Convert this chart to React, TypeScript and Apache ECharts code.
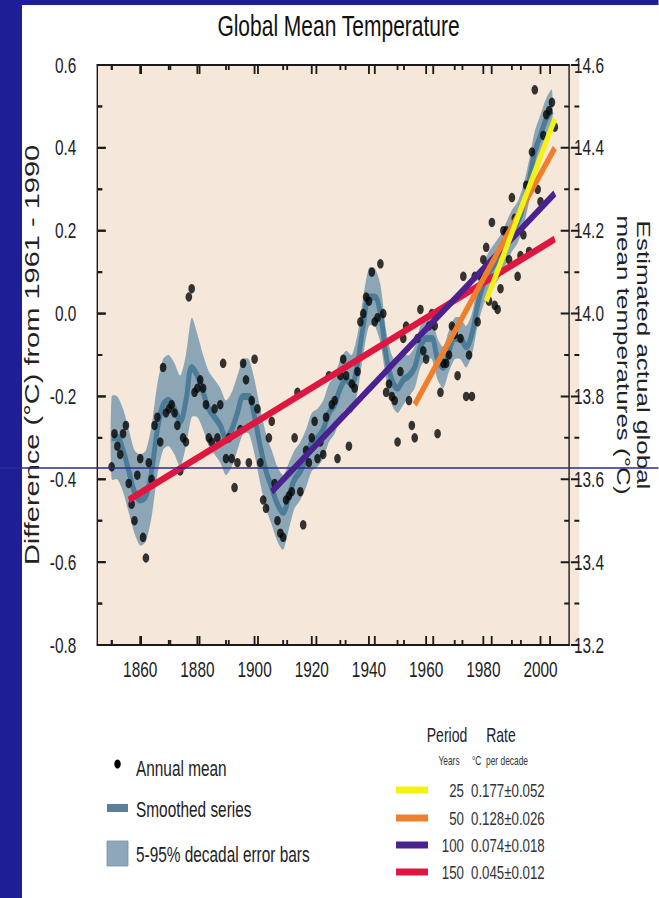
import React, { useEffect, useRef } from "react";
import * as echarts from "echarts";

// Drawn wide, then squeezed horizontally by SX so glyphs and dots get the narrow look.
const SX = 0.7;
const W = 941;
const H = 898;
const FONT = "'Liberation Sans', Arial, sans-serif";

// Annual global mean temperature anomaly (°C, relative to 1961-1990), 1850-2005
const firstYear = 1850;
const annualMean = [
  -0.37, -0.29, -0.32, -0.34, -0.29, -0.27, -0.41, -0.46, -0.5, -0.39,
  -0.35, -0.54, -0.59, -0.36, -0.4, -0.27, -0.25, -0.31, -0.13, -0.24,
  -0.23, -0.22, -0.24, -0.27, -0.38, -0.3, -0.31, 0.04, 0.06, -0.19,
  -0.18, -0.16, -0.18, -0.22, -0.3, -0.31, -0.23, -0.3, -0.22, -0.12,
  -0.35, -0.3, -0.35, -0.42, -0.36, -0.28, -0.12, -0.16, -0.36, -0.21,
  -0.11, -0.23, -0.36, -0.45, -0.47, -0.3, -0.26, -0.41, -0.5, -0.53,
  -0.54, -0.45, -0.44, -0.43, -0.3, -0.19, -0.43, -0.51, -0.33, -0.36,
  -0.3, -0.26, -0.35, -0.31, -0.34, -0.25, -0.15, -0.22, -0.21, -0.35,
  -0.15, -0.11, -0.15, -0.32, -0.17, -0.18, -0.14, -0.02, 0.0, 0.04,
  0.03, 0.1, -0.02, -0.01, 0.12, 0.0, -0.19, -0.17, -0.2, -0.21,
  -0.31, -0.14, -0.06, -0.03, -0.21, -0.27, -0.3, -0.06, 0.01, -0.09,
  -0.11, -0.03, 0.0, -0.03, -0.29, -0.19, -0.12, -0.12, -0.1, -0.03,
  -0.05, -0.15, -0.06, 0.09, -0.2, -0.1, -0.2, 0.09, -0.02, 0.09,
  0.13, 0.16, 0.03, 0.22, 0.02, 0.01, 0.06, 0.2, 0.2, 0.13,
  0.28, 0.23, 0.09, 0.14, 0.19, 0.31, 0.15, 0.39, 0.54, 0.3,
  0.27, 0.43, 0.48, 0.49, 0.51, 0.45,
];

// Decadal smoothed series and the half-width of its 5-95% band
const smoothYears = [
  1850, 1852, 1854, 1856, 1858, 1860, 1862, 1864, 1866, 1868, 1870, 1872, 1874,
  1876, 1878, 1880, 1882, 1884, 1886, 1888, 1890, 1892, 1894, 1896, 1898, 1900,
  1902, 1904, 1906, 1908, 1910, 1912, 1914, 1916, 1918, 1920, 1922, 1924, 1926,
  1928, 1930, 1932, 1934, 1936, 1938, 1940, 1942, 1944, 1946, 1948, 1950, 1952,
  1954, 1956, 1958, 1960, 1962, 1964, 1966, 1968, 1970, 1972, 1974, 1976, 1978,
  1980, 1982, 1984, 1986, 1988, 1990, 1992, 1994, 1996, 1998, 2000, 2002, 2004,
];
const smoothMean = [
  -0.3, -0.3, -0.33, -0.38, -0.43, -0.45, -0.44, -0.38, -0.28, -0.22, -0.21, -0.23, -0.26,
  -0.21, -0.13, -0.15, -0.19, -0.23, -0.25, -0.27, -0.3, -0.28, -0.24, -0.2, -0.2, -0.25,
  -0.32, -0.38, -0.42, -0.46, -0.48, -0.44, -0.4, -0.38, -0.35, -0.31, -0.3, -0.28, -0.24,
  -0.22, -0.18, -0.16, -0.17, -0.12, -0.03, 0.04, 0.04, 0.0, -0.1, -0.16, -0.18, -0.16,
  -0.15, -0.13, -0.08, -0.06, -0.06, -0.11, -0.13, -0.09, -0.06, -0.06, -0.08, -0.05, 0.02,
  0.07, 0.1, 0.12, 0.14, 0.17, 0.2, 0.22, 0.26, 0.32, 0.39, 0.43, 0.47, 0.49,
];
const bandHalfWidth = [
  0.1, 0.1, 0.1, 0.1, 0.1, 0.11, 0.11, 0.11, 0.11, 0.11, 0.11, 0.11, 0.11,
  0.11, 0.12, 0.1, 0.09, 0.09, 0.09, 0.09, 0.09, 0.09, 0.09, 0.09, 0.09, 0.09,
  0.09, 0.09, 0.09, 0.09, 0.09, 0.08, 0.07, 0.07, 0.07, 0.07, 0.07, 0.07, 0.07,
  0.07, 0.07, 0.07, 0.07, 0.07, 0.07, 0.07, 0.07, 0.07, 0.06, 0.06, 0.06, 0.06,
  0.05, 0.05, 0.05, 0.05, 0.05, 0.05, 0.05, 0.05, 0.05, 0.05, 0.05, 0.05, 0.05,
  0.05, 0.05, 0.05, 0.05, 0.05, 0.05, 0.05, 0.05, 0.05, 0.05, 0.05, 0.05, 0.05,
];

// Linear trends ending in 2005
const trendPeriods = ["25", "50", "100", "150"];
const trendRates = ["0.177±0.052", "0.128±0.026", "0.074±0.018", "0.045±0.012"];
const trendStartYear = [1981, 1956, 1906, 1856];
const trendStartValue = [0.03, -0.22, -0.43, -0.45];
const trendEndYear = 2005;
const trendEndValue = [0.47, 0.4, 0.29, 0.18];
const trendColors = ["#f2f214", "#ef7f2c", "#4a2190", "#df1740"];

// Axis ranges and tick positions
const X_MIN = 1845;
const X_MAX = 2010;
const Y_MIN = -0.8;
const Y_MAX = 0.6;
const decadeTicks = [1850, 1860, 1870, 1880, 1890, 1900, 1910, 1920, 1930, 1940, 1950, 1960, 1970, 1980, 1990, 2000];
const labelYears = [1860, 1880, 1900, 1920, 1940, 1960, 1980, 2000];
const anomalyTicks = [-0.8, -0.7, -0.6, -0.5, -0.4, -0.3, -0.2, -0.1, 0.0, 0.1, 0.2, 0.3, 0.4, 0.5, 0.6];

const AXIS = "#1a1a1a";
const BAND = "#8da6b5";
const SMOOTH = "#4c7c98";
const NAVY = "#1e1e96";
const PLOT_BG = "#f5e7d9";

const px = (x: number) => x / SX;

const GRID = { left: px(97.3), top: 65, width: px(579.3) - px(97.3), height: 580 };

// frame position of an axis value, same linear mapping as the grid's axes
const frameX = (yr: number) => GRID.left + ((yr - X_MIN) / (X_MAX - X_MIN)) * GRID.width;
const frameY = (v: number) => GRID.top + ((Y_MAX - v) / (Y_MAX - Y_MIN)) * GRID.height;

// Inward tick marks on all four frame edges.
function tickElements(toPx: (p: number[]) => number[], idPrefix: string): any[] {
  const out: any[] = [];
  decadeTicks.forEach((yr) => {
    const len = labelYears.indexOf(yr) >= 0 ? 9 : 5;
    const b = toPx([yr, Y_MIN]);
    const t = toPx([yr, Y_MAX]);
    out.push({ id: idPrefix + "b" + yr, type: "rect", z: 60, shape: { x: b[0] - 1.3, y: b[1] - len, width: 2.6, height: len }, style: { fill: AXIS } });
    out.push({ id: idPrefix + "t" + yr, type: "rect", z: 60, shape: { x: t[0] - 1.3, y: t[1], width: 2.6, height: len }, style: { fill: AXIS } });
  });
  anomalyTicks.forEach((v, i) => {
    const len = i % 2 === 0 ? 12 : 7;
    const l = toPx([X_MIN, v]);
    const r = toPx([X_MAX, v]);
    out.push({ id: idPrefix + "l" + i, type: "rect", z: 60, shape: { x: l[0], y: l[1] - 1, width: len, height: 2 }, style: { fill: AXIS } });
    out.push({ id: idPrefix + "r" + i, type: "rect", z: 60, shape: { x: r[0] - len, y: r[1] - 1, width: len, height: 2 }, style: { fill: AXIS } });
  });
  return out;
}

function baseGraphic(): any[] {
  const legendLeftX = px(136);
  const swX = px(107);
  const swW = px(128) - px(107);
  const rateSwX = px(396);
  const rateSwW = px(428) - px(396);
  const rowY = [790, 818, 845, 872];
  const LEG = 22;

  const g: any[] = [
    // plot panel background, kept underneath everything else
    {
      id: "panel",
      type: "rect",
      shape: { x: GRID.left, y: GRID.top, width: GRID.width, height: GRID.height },
      style: { fill: PLOT_BG },
      z: -10,
      silent: true,
    },
    { id: "stripe-left", type: "rect", shape: { x: 0, y: 0, width: px(22), height: H }, style: { fill: NAVY }, z: 100 },
    { id: "stripe-top", type: "rect", shape: { x: 0, y: 0, width: W, height: 5 }, style: { fill: NAVY }, z: 100 },
    { id: "rule", type: "line", shape: { x1: 0, y1: 468, x2: W, y2: 468 }, style: { stroke: "#2b2b8c", lineWidth: 1.3 }, z: 100 },

    // left legend
    { id: "lg-dot", type: "circle", shape: { cx: px(117.5), cy: 764, r: 4.6 }, style: { fill: "#000" } },
    { id: "lg-t1", type: "text", x: legendLeftX, y: 768, style: { text: "Annual mean", fontSize: LEG, fontFamily: FONT, fill: "#222", verticalAlign: "middle" } },
    { id: "lg-sw2", type: "rect", shape: { x: swX, y: 804, width: swW, height: 8 }, style: { fill: "#5a809a" } },
    { id: "lg-t2", type: "text", x: legendLeftX, y: 809, style: { text: "Smoothed series", fontSize: LEG, fontFamily: FONT, fill: "#222", verticalAlign: "middle" } },
    { id: "lg-sw3", type: "rect", shape: { x: swX, y: 841, width: swW, height: 25 }, style: { fill: "#8ea8b9", stroke: "#7895aa", lineWidth: 1 } },
    { id: "lg-t3", type: "text", x: legendLeftX, y: 854, style: { text: "5-95% decadal error bars", fontSize: LEG, fontFamily: FONT, fill: "#222", verticalAlign: "middle" } },

    // trend legend
    { id: "tr-h1", type: "text", x: px(447), y: 735, style: { text: "Period", fontSize: 20, fontFamily: FONT, fill: "#222", align: "center", verticalAlign: "middle" } },
    { id: "tr-h2", type: "text", x: px(501), y: 735, style: { text: "Rate", fontSize: 20, fontFamily: FONT, fill: "#222", align: "center", verticalAlign: "middle" } },
    { id: "tr-h3", type: "text", x: px(449), y: 761, style: { text: "Years", fontSize: 12, fontFamily: FONT, fill: "#333", align: "center", verticalAlign: "middle" } },
    { id: "tr-h4", type: "text", x: px(500), y: 761, style: { text: "°C  per decade", fontSize: 12, fontFamily: FONT, fill: "#333", align: "center", verticalAlign: "middle" } },
  ];
  trendPeriods.forEach((p, k) => {
    g.push({ id: "tr-sw" + k, type: "rect", shape: { x: rateSwX, y: rowY[k] - 3.5, width: rateSwW, height: 7 }, style: { fill: trendColors[k] } });
    g.push({ id: "tr-p" + k, type: "text", x: px(464), y: rowY[k], style: { text: p, fontSize: 19, fontFamily: FONT, fill: "#333", align: "right", verticalAlign: "middle" } });
    g.push({ id: "tr-r" + k, type: "text", x: px(471), y: rowY[k], style: { text: trendRates[k], fontSize: 19, fontFamily: FONT, fill: "#333", align: "left", verticalAlign: "middle" } });
  });

  // frame ticks
  tickElements((p) => [frameX(p[0]), frameY(p[1])], "gt-").forEach((el) => g.push(el));
  return g;
}

function buildOption(): any {
  const scatterData = annualMean.map((v, i) => [firstYear + i, v]);
  const smoothData = smoothYears.map((y, i) => [y, smoothMean[i]]);

  const baseX = {
    type: "value",
    min: X_MIN,
    max: X_MAX,
    splitLine: { show: false },
    axisTick: { show: false },
  };
  const xAxes = [
    {
      ...baseX,
      position: "bottom",
      axisLine: { show: true, onZero: false, lineStyle: { color: AXIS, width: 2 } },
      axisLabel: {
        show: true,
        customValues: labelYears,
        margin: 13,
        fontSize: 22,
        color: "#222",
        fontFamily: FONT,
        formatter: (v: number) => String(v),
      },
    },
    {
      ...baseX,
      position: "top",
      axisLine: { show: true, onZero: false, lineStyle: { color: AXIS, width: 2 } },
      axisLabel: { show: false },
    },
  ];

  const yCommon = {
    type: "value",
    interval: 0.2,
    splitLine: { show: false },
    axisLine: { show: true, onZero: false, lineStyle: { color: AXIS, width: 2 } },
    axisTick: { show: false },
  };
  const yAxes = [
    {
      ...yCommon,
      position: "left",
      min: Y_MIN,
      max: Y_MAX,
      axisLabel: { margin: 30, fontSize: 22, color: "#222", fontFamily: FONT, formatter: (v: number) => v.toFixed(1) },
      name: "Difference (°C) from 1961 - 1990",
      nameLocation: "middle",
      nameRotate: 90,
      nameGap: 58,
      nameTextStyle: { fontSize: 29, color: "#222", fontFamily: FONT },
    },
    {
      ...yCommon,
      position: "right",
      min: 13.2,
      max: 14.6,
      axisLabel: { margin: 7, fontSize: 22, color: "#222", fontFamily: FONT, formatter: (v: number) => v.toFixed(1) },
      name: "Estimated actual global\nmean temperatures (°C)",
      nameLocation: "middle",
      nameRotate: -90,
      nameGap: 62,
      nameTextStyle: { fontSize: 26, lineHeight: 29, color: "#222", fontFamily: FONT },
    },
  ];

  const trendSeries = [3, 2, 1, 0].map((k) => ({
    type: "line",
    name: trendPeriods[k],
    xAxisIndex: 0,
    yAxisIndex: 0,
    data: [
      [trendStartYear[k], trendStartValue[k]],
      [trendEndYear, trendEndValue[k]],
    ],
    showSymbol: false,
    lineStyle: { color: trendColors[k], width: 7, cap: "butt" },
    z: 6 + (3 - k),
    silent: true,
  }));

  return {
    animation: false,
    backgroundColor: "#ffffff",
    textStyle: { fontFamily: FONT },
    title: {
      text: "Global Mean Temperature",
      left: px(335),
      top: 6,
      textAlign: "center",
      textStyle: { fontSize: 30, fontWeight: "normal", color: "#111", fontFamily: FONT },
    },
    grid: { ...GRID, show: false },
    xAxis: xAxes,
    yAxis: yAxes,
    series: [
      {
        type: "custom",
        name: "5-95% decadal error bars",
        xAxisIndex: 0,
        yAxisIndex: 0,
        data: [[smoothYears[0], smoothMean[0]]],
        z: 2,
        silent: true,
        renderItem: (_params: any, api: any) => {
          const upper = smoothYears.map((y, i) => api.coord([y, smoothMean[i] + bandHalfWidth[i]]));
          const lower = smoothYears.map((y, i) => api.coord([y, smoothMean[i] - bandHalfWidth[i]])).reverse();
          const ticks = tickElements((p) => api.coord(p), "st-").map((el) => {
            const { id, z, ...rest } = el;
            return rest;
          });
          return {
            type: "group",
            children: [
              {
                type: "polygon",
                shape: { points: upper.concat(lower), smooth: 0.25 },
                style: { fill: BAND },
              },
              ...ticks,
            ],
          };
        },
      },
      {
        type: "line",
        name: "Smoothed series",
        xAxisIndex: 0,
        yAxisIndex: 0,
        data: smoothData,
        smooth: 0.35,
        showSymbol: false,
        lineStyle: { color: SMOOTH, width: 7 },
        z: 3,
        silent: true,
      },
      {
        type: "scatter",
        name: "Annual mean",
        xAxisIndex: 0,
        yAxisIndex: 0,
        data: scatterData,
        symbol: "circle",
        symbolSize: 9.5,
        itemStyle: { color: "#050505" },
        z: 4,
        silent: true,
      },
      ...trendSeries,
    ],
    graphic: baseGraphic(),
  };
}

export default function App() {
  const ref = useRef<HTMLDivElement>(null);
  useEffect(() => {
    if (!ref.current) return;
    const chart = echarts.init(ref.current, null, { renderer: "svg" });
    chart.setOption(buildOption());
    return () => chart.dispose();
  }, []);
  return (
    <div
      ref={ref}
      style={{
        position: "fixed",
        left: 0,
        top: 0,
        width: W,
        height: H,
        transform: `scaleX(${SX})`,
        transformOrigin: "0 0",
        background: "#ffffff",
      }}
    />
  );
}
